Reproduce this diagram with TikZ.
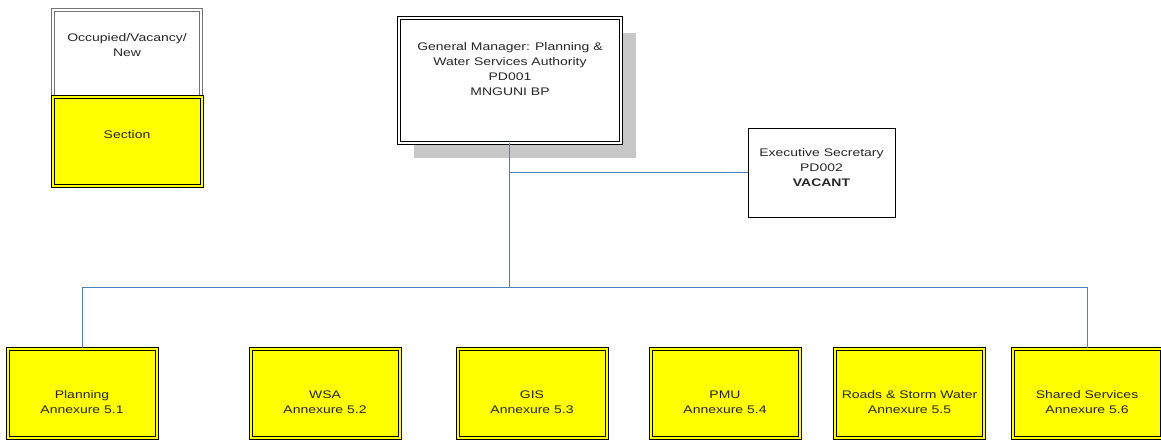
\documentclass[tikz,border=0pt]{standalone}
\usepackage{fontspec}
\setmainfont{Liberation Sans}[FakeStretch=1.27]
\usetikzlibrary{shadows}
\definecolor{linkblue}{RGB}{79,129,189}
\definecolor{secyellow}{RGB}{255,255,0}
\begin{document}
\begin{tikzpicture}[x=1pt,y=1pt]
\tikzstyle{every node}+=[font=\fontsize{11}{14.8}\selectfont, text=black!85]
\tikzstyle{box}=[draw=black, line width=1pt, double=white, double distance=2pt, minimum width=148pt, minimum height=88pt, inner sep=0pt]
\tikzstyle{secbox}=[box, double=secyellow, fill=secyellow, minimum width=149pt, minimum height=89pt]
\tikzstyle{txt}=[align=center, inner sep=0pt]
\tikzstyle{link}=[draw=linkblue, line width=0.9pt]
\useasboundingbox (0,0) rectangle (1161,-439);
% legend
\node [box, draw=black!55, double=white] (occ) at (127,-53.5) {};
\node [txt] (occT) at (127,-45) {Occupied/Vacancy/\\New};
\node [secbox] (sec) at (127,-141.5) {};
\node [txt] (secT) at (127,-135) {Section};
% top of the tree
\node [box, fill=white, minimum width=222pt, minimum height=125pt,
  general shadow={fill=black!22, shadow xshift=15pt, shadow yshift=-15pt}] (gm) at (509.5,-80) {};
\node [txt] (gmT) at (510,-69) {General Manager: Planning \&\\Water Services Authority\\PD001\\MNGUNI BP};
\node [draw=black, line width=1pt, minimum width=147pt, minimum height=89pt] (exec) at (821.5,-172.5) {};
\node [txt] (execT) at (821.5,-167.5) {Executive Secretary\\PD002\\\textbf{VACANT}};
% sections
\node [secbox] (plan) at (82,-393) {};
\node [txt] (planT) at (82,-402) {Planning\\Annexure 5.1};
\node [secbox] (wsa) at (325,-393) {};
\node [txt] (wsaT) at (325,-402) {WSA\\Annexure 5.2};
\node [secbox] (gis) at (532,-393) {};
\node [txt] (gisT) at (532,-402) {GIS\\Annexure 5.3};
\node [secbox] (pmu) at (725,-393) {};
\node [txt] (pmuT) at (725,-402) {PMU\\Annexure 5.4};
\node [secbox] (roads) at (909.5,-393) {};
\node [txt] (roadsT) at (909.5,-402) {Roads \& Storm Water\\Annexure 5.5};
\node [secbox] (shared) at (1087,-393) {};
\node [txt] (sharedT) at (1087,-402) {Shared Services\\Annexure 5.6};
% connectors
\coordinate (bus) at (512,-287);
\draw [link] (gm.south) -- (gm.south |- bus);
\draw [link] (gm.south |- exec.west) -- (exec.west);
\draw [link] (plan.north) -- (plan.north |- bus) -- (shared.north |- bus) -- (shared.north);
\end{tikzpicture}
\end{document}
